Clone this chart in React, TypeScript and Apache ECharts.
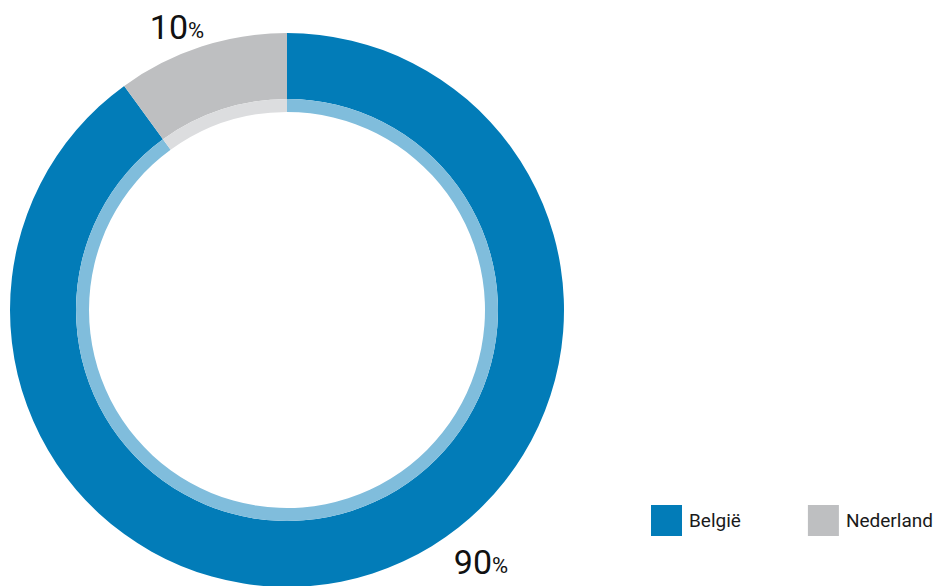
import React, { useEffect, useRef } from "react";
import * as echarts from "echarts";

const categories = ["België", "Nederland"];
const values = [90, 10];
const mainColors = ["#027cb8", "#bebfc1"];
const innerColors = ["#80bddc", "#dcdddf"];

const FONT = 'Roboto, "Liberation Sans", sans-serif';

export default function App() {
  const ref = useRef<HTMLDivElement>(null);
  useEffect(() => {
    if (!ref.current) return;
    const chart = echarts.init(ref.current, null, { renderer: "svg" });
    const labelPos: Record<number, { x: number; y: number }> = {
      0: { x: 481, y: 562 },
      1: { x: 177, y: 27 },
    };
    chart.setOption({
      animation: false,
      legend: {
        data: categories,
        left: 651,
        top: 505,
        width: 330,
        padding: 0,
        itemWidth: 31,
        itemHeight: 31,
        itemGap: 67,
        icon: "rect",
        selectedMode: false,
        textStyle: { fontFamily: FONT, fontSize: 19, color: "#1a1a1a", padding: [0, 0, 0, 2] },
      },
      series: [
        {
          type: "pie",
          name: "main",
          center: [287, 310],
          radius: [211, 277],
          startAngle: 90,
          clockwise: true,
          silent: true,
          data: categories.map((c, i) => ({
            name: c,
            value: values[i],
            itemStyle: { color: mainColors[i] },
          })),
          label: {
            show: true,
            position: "outside",
            formatter: (p: any) => `{n|${p.value}}{p|%}`,
            rich: {
              n: { fontFamily: FONT, fontSize: 34, color: "#111" },
              p: { fontFamily: FONT, fontSize: 22, color: "#111", padding: [6, 0, 0, 0] },
            },
          },
          labelLine: { show: false },
          labelLayout: (params: any) => {
            const pos = labelPos[params.dataIndex];
            return { x: pos.x, y: pos.y, align: "center", verticalAlign: "middle" };
          },
        },
        {
          type: "pie",
          name: "inner",
          center: [287, 310],
          radius: [198, 211],
          startAngle: 90,
          clockwise: true,
          silent: true,
          label: { show: false },
          labelLine: { show: false },
          data: categories.map((c, i) => ({
            name: c,
            value: values[i],
            itemStyle: { color: innerColors[i] },
          })),
        },
      ],
    });
    return () => chart.dispose();
  }, []);
  return <div ref={ref} style={{ width: 938, height: 586, position: "absolute", left: 0, top: 0 }} />;
}
